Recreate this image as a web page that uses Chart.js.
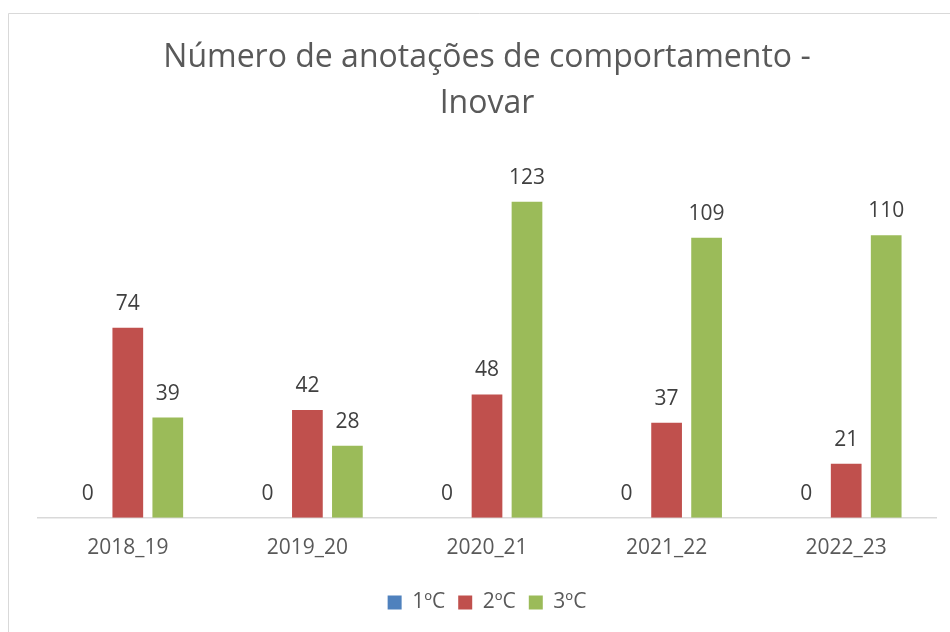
<!DOCTYPE html>
<html>
<head>
<meta charset="utf-8">
<script src="https://cdn.jsdelivr.net/npm/chart.js@4/dist/chart.umd.min.js"></script>
<style>
  html, body { margin: 0; padding: 0; background: #ffffff; }
  #wrap { width: 950px; height: 632px; position: relative; }
</style>
</head>
<body>
<div id="wrap"><canvas id="c" width="950" height="632"></canvas></div>
<script>
const titleLines = ['Número de anotações de comportamento -', 'Inovar'];
const categories = ['2018_19', '2019_20', '2020_21', '2021_22', '2022_23'];
const seriesNames = ['1ºC', '2ºC', '3ºC'];
const values1C = [0, 0, 0, 0, 0];
const values2C = [74, 42, 48, 37, 21];
const values3C = [39, 28, 123, 109, 110];
const colors = ['#4F81BD', '#C0504D', '#9BBB59'];

const FONT = "'Open Sans', 'DejaVu Sans', sans-serif";

const framePlugin = {
  id: 'frame',
  beforeDraw(chart) {
    const ctx = chart.ctx;
    ctx.save();
    ctx.fillStyle = '#ffffff';
    ctx.fillRect(0, 0, chart.width, chart.height);
    ctx.strokeStyle = '#d9d9d9';
    ctx.lineWidth = 1;
    ctx.beginPath();
    ctx.moveTo(8.5, chart.height);
    ctx.lineTo(8.5, 13.5);
    ctx.lineTo(chart.width, 13.5);
    ctx.stroke();
    ctx.restore();
  }
};

const labelPlugin = {
  id: 'valueLabels',
  afterDatasetsDraw(chart) {
    const ctx = chart.ctx;
    ctx.save();
    ctx.font = '21px ' + FONT;
    ctx.fillStyle = '#404040';
    ctx.textAlign = 'center';
    ctx.textBaseline = 'alphabetic';
    chart.data.datasets.forEach((ds, i) => {
      const meta = chart.getDatasetMeta(i);
      meta.data.forEach((el, j) => {
        ctx.fillText(String(ds.data[j]), el.x, el.y - 18);
      });
    });
    ctx.restore();
  }
};

const allSeries = [values1C, values2C, values3C];

new Chart(document.getElementById('c'), {
  type: 'bar',
  data: {
    labels: categories,
    datasets: seriesNames.map((name, i) => ({
      label: name,
      data: allSeries[i],
      backgroundColor: colors[i],
      borderColor: colors[i],
      borderWidth: 0,
      categoryPercentage: 0.668,
      barPercentage: 0.768
    }))
  },
  options: {
    responsive: false,
    animation: false,
    events: [],
    layout: { padding: { left: 38, right: 14, top: 0, bottom: 9 } },
    plugins: {
      title: {
        display: true,
        text: titleLines,
        color: '#595959',
        font: { family: FONT, size: 32, weight: 'normal', lineHeight: 1.44 },
        padding: { top: 35, bottom: 31 }
      },
      legend: {
        display: true,
        position: 'bottom',
        labels: {
          color: '#595959',
          font: { family: FONT, size: 21 },
          boxWidth: 14,
          boxHeight: 14,
          padding: 13
        }
      },
      tooltip: { enabled: false }
    },
    scales: {
      x: {
        grid: { display: false, drawTicks: false },
        border: { display: true, color: '#d9d9d9', width: 1.5 },
        ticks: { color: '#595959', font: { family: FONT, size: 21 }, padding: 18 }
      },
      y: {
        display: false,
        min: 0,
        max: 140
      }
    }
  },
  plugins: [framePlugin, labelPlugin]
});
</script>
</body>
</html>
